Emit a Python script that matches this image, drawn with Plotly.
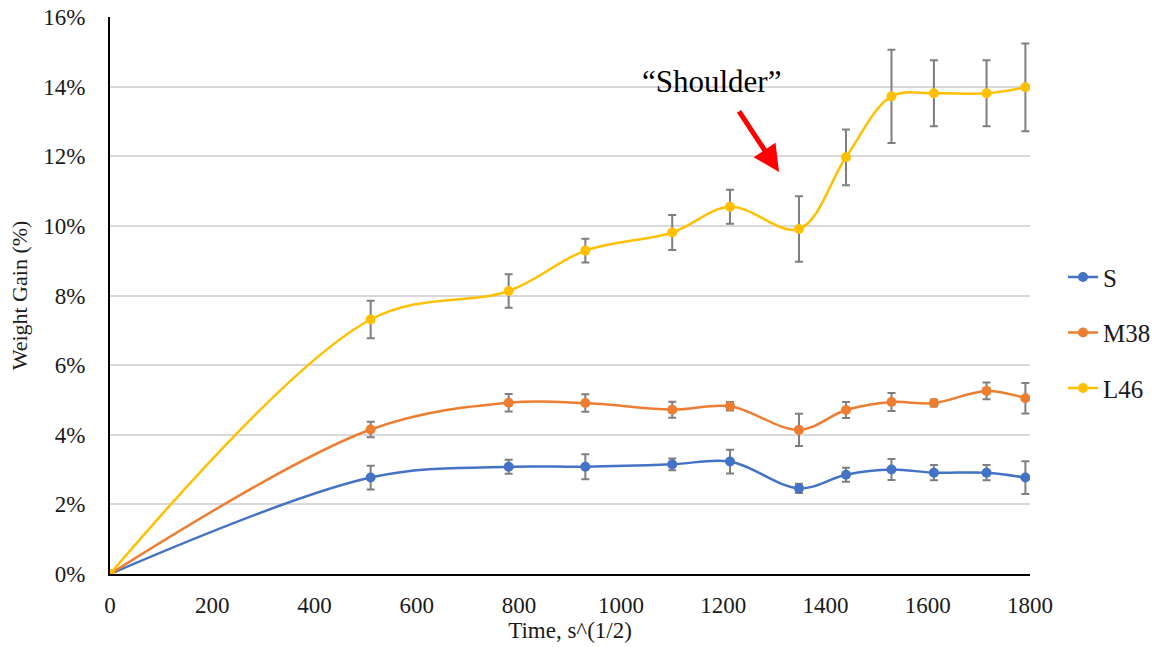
import plotly.graph_objects as go

# Time axis, s^(1/2)
time_sqrt = [0, 510, 780, 930, 1100, 1213, 1348, 1440, 1529, 1612, 1715, 1791]

# Weight gain (%) and standard deviation for each specimen
gain_S = [0, 2.77, 3.08, 3.08, 3.15, 3.23, 2.46, 2.85, 3.00, 2.91, 2.91, 2.77]
err_S = [0, 0.34, 0.20, 0.36, 0.17, 0.34, 0.13, 0.20, 0.30, 0.22, 0.22, 0.47]

gain_M38 = [0, 4.15, 4.92, 4.91, 4.72, 4.82, 4.14, 4.71, 4.94, 4.91, 5.26, 5.05]
err_M38 = [0, 0.22, 0.25, 0.25, 0.23, 0.12, 0.46, 0.23, 0.26, 0.10, 0.24, 0.44]

gain_L46 = [0, 7.31, 8.13, 9.29, 9.81, 10.55, 9.91, 11.97, 13.72, 13.81, 13.81, 13.98]
err_L46 = [0, 0.54, 0.48, 0.34, 0.50, 0.49, 0.94, 0.80, 1.34, 0.95, 0.95, 1.26]

series_names = ["S", "M38", "L46"]
series_gain = [gain_S, gain_M38, gain_L46]
series_err = [err_S, err_M38, err_L46]
series_colors = ["#4472C4", "#ED7D31", "#FFC000"]

x_ticks = [0, 200, 400, 600, 800, 1000, 1200, 1400, 1600, 1800]
y_ticks = [0, 2, 4, 6, 8, 10, 12, 14, 16]

SERIF = "Liberation Serif, Times New Roman, serif"
TXT = "#1a1a1a"

fig = go.Figure()
for name, gain, err, color in zip(series_names, series_gain, series_err, series_colors):
    fig.add_trace(go.Scatter(
        x=time_sqrt, y=gain, name=name, legendgroup=name,
        mode="lines+markers",
        line=dict(color=color, width=2.5, shape="spline", smoothing=1.0),
        marker=dict(color=color, size=10),
        error_y=dict(type="data", array=err, visible=True,
                     color="#7f7f7f", thickness=2, width=4),
    ))

# red arrow pointing at the shoulder in the L46 curve
fig.add_annotation(
    x=1309, y=11.55, xref="x", yref="y",
    ax=-41, ay=-62, axref="pixel", ayref="pixel",
    showarrow=True, arrowhead=2, arrowsize=1.05, arrowwidth=5,
    arrowcolor="#FF0000", text="",
)
fig.add_annotation(
    x=1176, y=14.15, xref="x", yref="y",
    text="\u201cShoulder\u201d", showarrow=False,
    font=dict(family=SERIF, size=31, color="#000000"),
)

fig.update_layout(
    width=1163, height=647,
    margin=dict(l=110, r=133, t=17, b=73, autoexpand=False),
    paper_bgcolor="white", plot_bgcolor="white",
    font=dict(family=SERIF, size=23, color=TXT),
    showlegend=True,
    legend=dict(xref="container", yref="container",
                x=0.914, xanchor="left", y=0.607, yanchor="top",
                font=dict(family=SERIF, size=25, color=TXT),
                traceorder="grouped", tracegroupgap=20,
                bgcolor="rgba(0,0,0,0)"),
)

fig.update_xaxes(
    range=[0, 1800], tickvals=x_ticks, ticktext=[str(v) for v in x_ticks],
    showgrid=False, zeroline=False, automargin=False,
    showline=True, linecolor="#000000", linewidth=2,
    ticks="", ticklabelstandoff=9,
    tickfont=dict(family=SERIF, size=23, color=TXT),
    title=dict(text="Time, s^(1/2)", standoff=2,
               font=dict(family=SERIF, size=23, color=TXT)),
)
fig.update_yaxes(
    range=[0, 16], tickvals=y_ticks, ticktext=[f"{v}%" for v in y_ticks],
    showgrid=True, gridcolor="#d9d9d9", gridwidth=1.5, zeroline=False,
    automargin=False,
    showline=True, linecolor="#000000", linewidth=2,
    ticks="", ticklabelstandoff=18,
    tickfont=dict(family=SERIF, size=23, color=TXT),
    title=dict(text="Weight Gain (%)", standoff=10,
               font=dict(family=SERIF, size=22, color=TXT)),
)

fig.write_html("out.html")
